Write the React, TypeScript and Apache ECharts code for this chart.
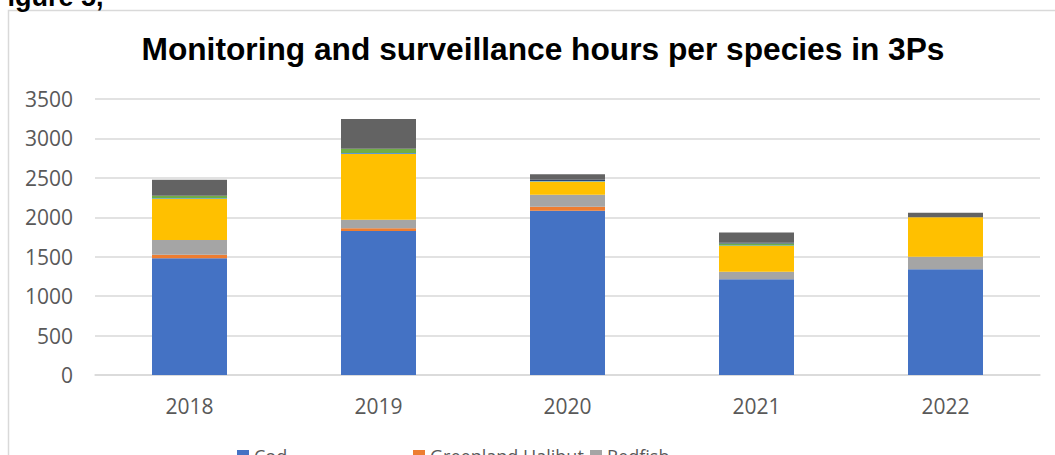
import React, { useEffect, useRef } from "react";
import * as echarts from "echarts";

const years = ["2018", "2019", "2020", "2021", "2022"];
const yTicks = [0, 500, 1000, 1500, 2000, 2500, 3000, 3500];

const seriesNames = [
  "Cod",
  "Greenland Halibut",
  "Redfish",
  "Atlantic Halibut",
  "Skate",
  "Monkfish",
  "White Hake",
  "Other",
];
const cod = [1480, 1826, 2083, 1213, 1340];
const greenlandHalibut = [45, 34, 51, 0, 0];
const redfish = [187, 110, 152, 97, 160];
const atlanticHalibut = [520, 833, 165, 326, 500];
const skate = [8, 12, 5, 5, 0];
const monkfish = [32, 55, 5, 25, 0];
const whiteHake = [0, 0, 15, 12, 0];
const other = [203, 377, 70, 130, 59];
const colors = ["#4472C4", "#ED7D31", "#A5A5A5", "#FFC000", "#5B9BD5", "#70AD47", "#264478", "#636363"];

const seriesData = [cod, greenlandHalibut, redfish, atlanticHalibut, skate, monkfish, whiteHake, other];
const legendLefts = [237, 413, 590];

export default function App() {
  const ref = useRef<HTMLDivElement>(null);
  useEffect(() => {
    if (!ref.current) return;
    const chart = echarts.init(ref.current, null, { renderer: "svg" });
    const legends = seriesNames.map((name, i) => ({
      show: true,
      data: [name],
      left: legendLefts[i % 3],
      top: 447 + Math.floor(i / 3) * 30,
      padding: 0,
      itemWidth: 12,
      itemHeight: 12,
      icon: "rect",
      itemGap: 6,
      textStyle: { fontFamily: "Open Sans", fontSize: 18, color: "#595959" },
      selectedMode: false,
    }));
    chart.setOption({
      animation: false,
      color: colors,
      title: {
        text: "Monitoring and surveillance hours per species in 3Ps",
        left: 538,
        textAlign: "center",
        top: 28,
        textStyle: { fontFamily: "Liberation Sans", fontWeight: "bold", fontSize: 31.7, color: "#000000" },
      },
      legend: legends,
      grid: { left: 95, top: 99, width: 945, height: 276 },
      xAxis: {
        type: "category",
        data: years,
        axisLine: { lineStyle: { color: "#d9d9d9", width: 1.5 } },
        axisTick: { show: false },
        axisLabel: { fontFamily: "Open Sans", fontSize: 21, color: "#595959", margin: 20 },
      },
      yAxis: {
        type: "value",
        min: 0,
        max: 3500,
        interval: 500,
        axisLine: { show: false },
        axisTick: { show: false },
        splitLine: { lineStyle: { color: "#d9d9d9", width: 1.5 } },
        axisLabel: {
          fontFamily: "Open Sans",
          fontSize: 21,
          color: "#595959",
          margin: 22,
          formatter: (v: number) => (yTicks.includes(v) ? String(v) : ""),
        },
      },
      graphic: [
        {
          type: "rect",
          shape: { x: 8.5, y: 10.5, width: 1200, height: 700 },
          style: { fill: "none", stroke: "#d9d9d9", lineWidth: 1.5 },
          silent: true,
        },
        {
          type: "text",
          x: -9,
          y: 10,
          style: {
            text: "Figure 5,",
            font: "bold 27px 'Liberation Sans'",
            fill: "#000000",
            verticalAlign: "bottom",
          },
        },
      ],
      series: seriesNames.map((name, i) => ({
        name,
        type: "bar",
        stack: "total",
        barWidth: 75,
        data: seriesData[i],
        itemStyle: { color: colors[i] },
      })),
    });
    return () => chart.dispose();
  }, []);
  return (
    <div style={{ position: "fixed", left: 0, top: 0, width: 1055, height: 455, overflow: "hidden", background: "#fff" }}>
      <div ref={ref} style={{ width: 1080, height: 540 }} />
    </div>
  );
}
